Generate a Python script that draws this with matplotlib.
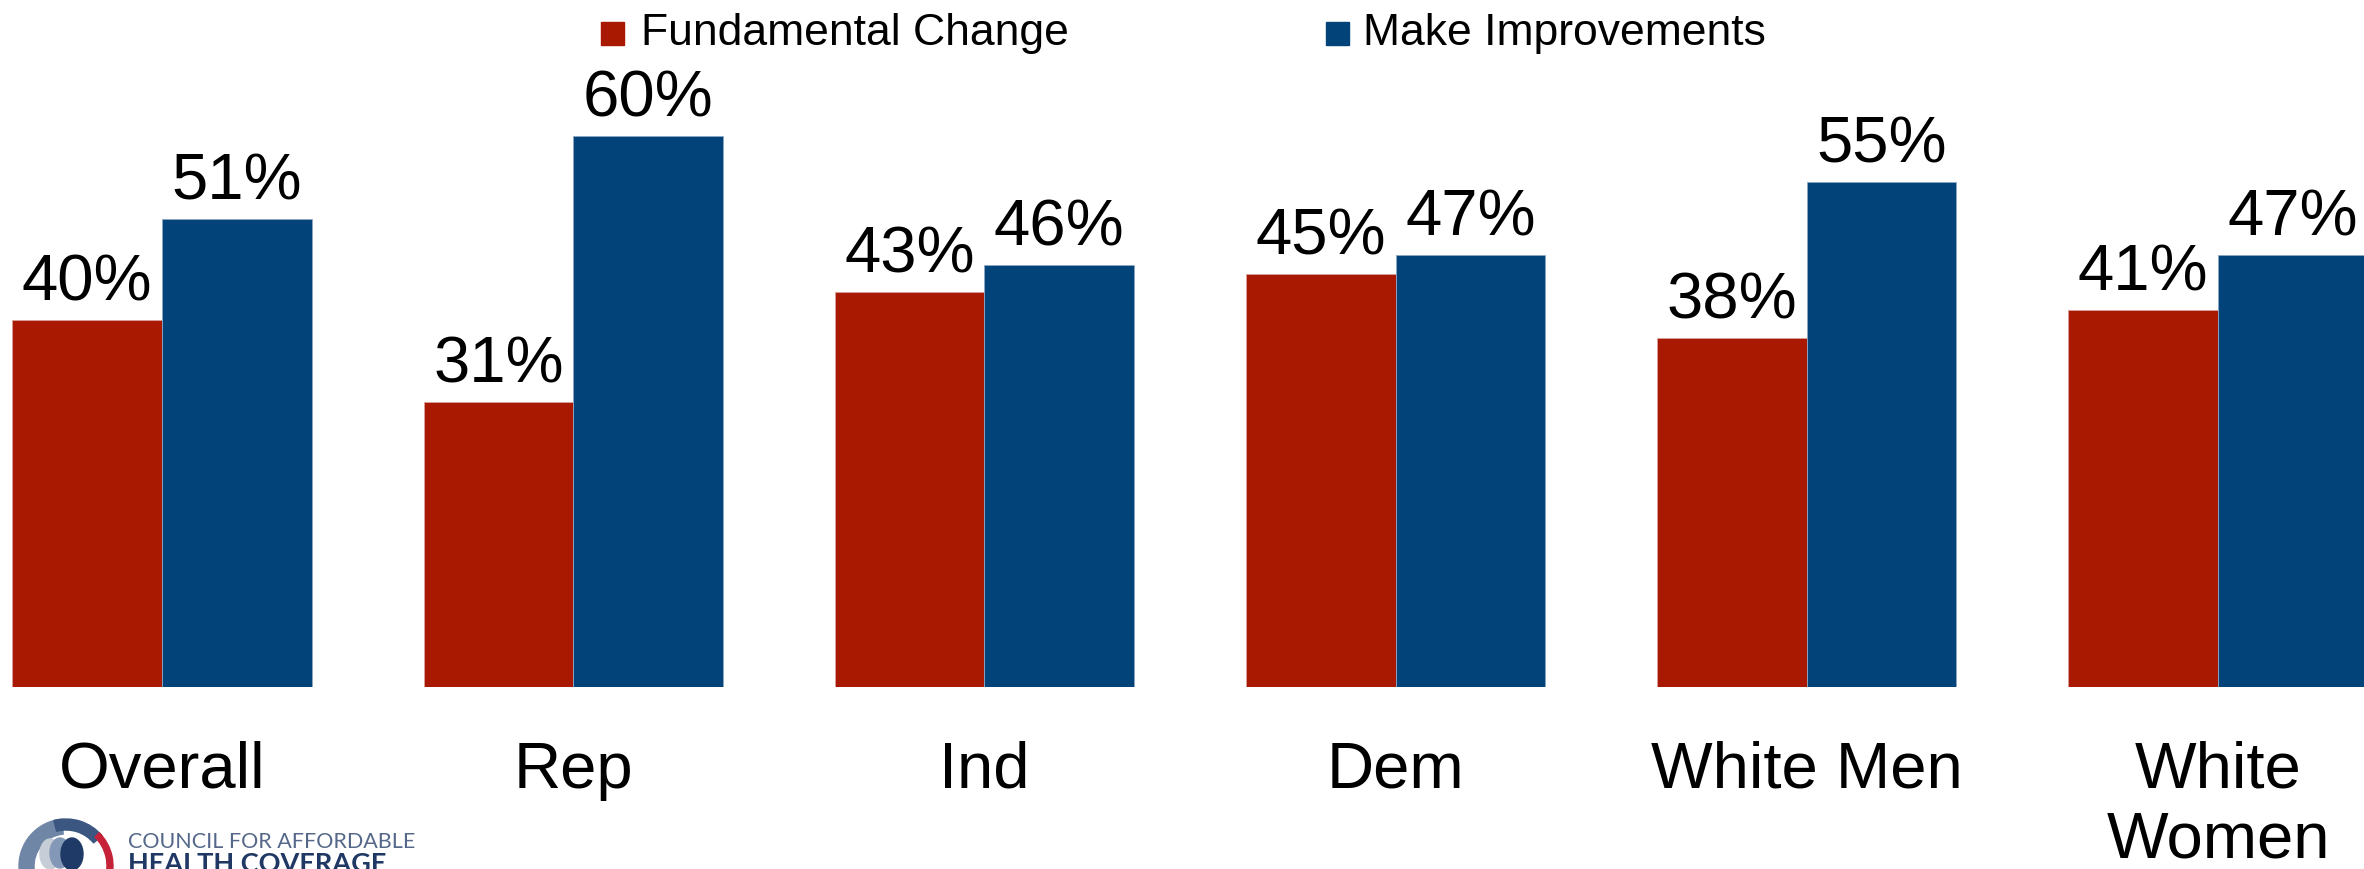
import numpy as np
import matplotlib
matplotlib.use('Agg')
import matplotlib.pyplot as plt
from matplotlib.patches import Rectangle, Wedge, Ellipse

plt.rcParams['font.family'] = ['Liberation Sans', 'DejaVu Sans']

# survey results (percent)
groups = ['Overall', 'Rep', 'Ind', 'Dem', 'White Men', 'White\nWomen']
fundamental = [40, 31, 43, 45, 38, 41]
improvements = [51, 60, 46, 47, 55, 47]
series_names = ['Fundamental Change', 'Make Improvements']
colors = ['#A91800', '#02447A']

W, H = 2364, 869
fig = plt.figure(figsize=(W / 100, H / 100), dpi=100)


def fx(px):
    return px / W


def fy(py):
    # pixel measured from the top
    return 1 - py / H


# axes: baseline at y=687 px, spans full width
ax = fig.add_axes([0, fy(687), 1, 1 - fy(687)])
x = np.arange(len(groups))
w = 0.3636
b1 = ax.bar(x - w / 2, fundamental, w, color=colors[0], edgecolor='#d9a0a0', linewidth=0.6)
b2 = ax.bar(x + w / 2, improvements, w, color=colors[1], edgecolor='#8fa8c4', linewidth=0.6)
ax.set_xlim(-162 / 411.2, (W - 162) / 411.2)
ax.set_ylim(0, 74.8)
ax.axis('off')

for bars, vals in [(b1, fundamental), (b2, improvements)]:
    for rect, v in zip(bars, vals):
        ax.annotate(f'{v}%', (rect.get_x() + rect.get_width() / 2, v),
                    xytext=(0, 14), textcoords='offset points',
                    ha='center', va='baseline', fontsize=47, color='black')

# category labels, one text per line so the first baseline sits at 788 px
trans = matplotlib.transforms.blended_transform_factory(ax.transData, fig.transFigure)
for xi, g in zip(x, groups):
    for k, line in enumerate(g.split('\n')):
        fig.text(xi, fy(788 + 69 * k), line, transform=trans, ha='center',
                 va='baseline', fontsize=47)

# legend drawn by hand
leg = [(601, 641), (1326, 1363)]
for (mx, tx), name, c in zip(leg, series_names, colors):
    fig.patches.append(Rectangle((fx(mx), fy(45)), fx(23), 23 / H,
                                 transform=fig.transFigure, color=c))
    fig.text(fx(tx), fy(45), name, ha='left', va='baseline', fontsize=32)

# logo, bottom-left (cut by the lower edge as in the source)
lax = fig.add_axes([0, 0, fx(420), 60 / H])
lax.set_xlim(0, 420)
lax.set_ylim(0, 60)
lax.axis('off')
cx, cy = 66, 3
lax.add_patch(Wedge((cx, cy), 47, 95, 275, width=15, color='#6f86a6'))
lax.add_patch(Wedge((cx, cy), 47, 40, 105, width=11, color='#3b5781'))
lax.add_patch(Wedge((cx, cy), 47, -20, 45, width=6, color='#c52238'))
lax.add_patch(Ellipse((cx - 16, cy + 12), 20, 30, color='#c7cdd6'))
lax.add_patch(Ellipse((cx - 6, cy + 13), 20, 30, color='#8397b6'))
lax.add_patch(Ellipse((cx + 6, cy + 12), 22, 32, color='#1f3a66'))
lax.text(128, 869 - 848, 'COUNCIL FOR AFFORDABLE', ha='left', va='baseline',
         fontsize=15.5, color='#55688a', family=['Lato', 'DejaVu Sans'])
lax.text(128, -3, 'HEALTH COVERAGE', ha='left', va='baseline',
         fontsize=19.5, color='#1f3864', family=['Lato', 'DejaVu Sans'], fontweight='bold')

plt.savefig('out.png', dpi=100)
